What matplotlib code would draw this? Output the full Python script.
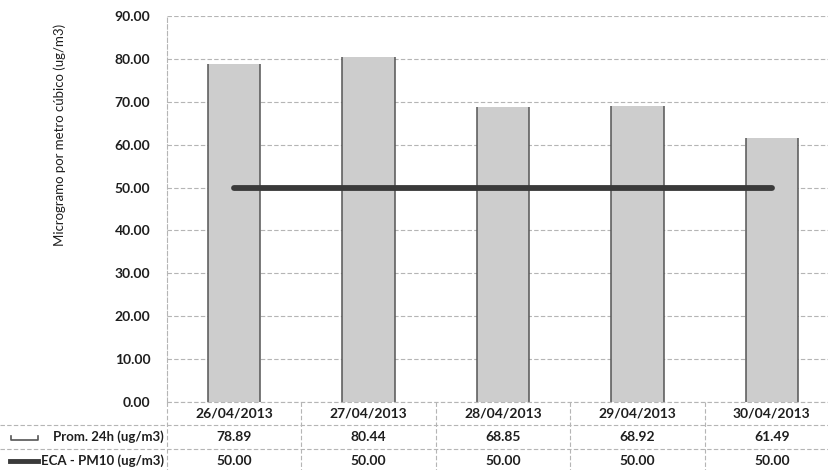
import matplotlib
matplotlib.use("Agg")
import matplotlib.pyplot as plt
from matplotlib.lines import Line2D
import numpy as np

# Data
fechas = ["26/04/2013", "27/04/2013", "28/04/2013", "29/04/2013", "30/04/2013"]
prom_24h = [78.89, 80.44, 68.85, 68.92, 61.49]
eca_pm10 = [50.00, 50.00, 50.00, 50.00, 50.00]
serie_prom = "Prom. 24h (ug/m3)"
serie_eca = "ECA - PM10 (ug/m3)"
y_label = "Microgramo por metro cúbico (ug/m3)"
y_ticks = [0, 10, 20, 30, 40, 50, 60, 70, 80, 90]

plt.rcParams["font.family"] = ["Lato", "DejaVu Sans"]
plt.rcParams["hatch.color"] = "#e6e6e6"
plt.rcParams["hatch.linewidth"] = 0.5

W, H = 829, 470
fig = plt.figure(figsize=(W / 100, H / 100), dpi=100)

# Plot area in pixels (extends slightly past the right edge)
left_px, top_px, bottom_px, right_px = 167, 16, 402, 839
ax = fig.add_axes([left_px / W, 1 - bottom_px / H,
                   (right_px - left_px) / W, (bottom_px - top_px) / H])

x = np.arange(len(fechas))
bar_w = 0.39
ax.bar(x, prom_24h, width=bar_w, color="#cdcdcd", edgecolor="none",
       hatch="......", zorder=2)
# darker side edges of the columns
ax.vlines(np.concatenate([x - bar_w / 2, x + bar_w / 2]), 0,
          prom_24h + prom_24h, color="#555555", linewidth=1.1, zorder=2.5)
ax.plot(x, eca_pm10, color="#3a3a3a", linewidth=4.2,
        solid_capstyle="round", zorder=3)

ax.set_xlim(-0.5, len(fechas) - 0.5)
ax.set_ylim(0, 90)
ax.set_yticks(y_ticks)
ax.set_yticklabels([f"{v:.2f}" for v in y_ticks])
ax.tick_params(axis="y", length=0, pad=12, labelsize=10, labelcolor="#1e1e1e")
ax.set_xticks([])
for lbl in ax.get_yticklabels():
    lbl.set_fontweight("bold")

ax.grid(axis="y", color="#b5b5b5", linestyle=(0, (4, 2)), linewidth=0.8, zorder=0)
for side in ["right", "bottom", "top"]:
    ax.spines[side].set_visible(False)
ax.spines["left"].set_color("#b5b5b5")
ax.spines["left"].set_linestyle((0, (4, 2)))
ax.spines["left"].set_linewidth(0.8)

fig.text(60 / W, 1 - 135 / H, y_label, rotation=90, ha="center", va="center",
         fontsize=9.5, color="#1e1e1e")

# Data table below the plot
def fy(py):
    return 1 - py / H

def fx(px):
    return px / W

grid_kw = dict(color="#b5b5b5", linewidth=0.8, linestyle=(0, (4, 2)))
cat_w = (right_px - left_px) / len(fechas)
col_edges = [left_px + i * cat_w for i in range(len(fechas))]
for cx in col_edges:
    fig.add_artist(Line2D([fx(cx), fx(cx)], [fy(402), fy(470)], **grid_kw))
fig.add_artist(Line2D([fx(left_px), 1], [fy(402), fy(402)], **grid_kw))
for ry in [425, 449]:
    fig.add_artist(Line2D([0, 1], [fy(ry), fy(ry)], **grid_kw))

row_y = [414, 437, 461]
txt_kw = dict(ha="center", va="center", fontsize=10, color="#1e1e1e",
              fontweight="bold")
for i, d in enumerate(fechas):
    cx = left_px + (i + 0.5) * cat_w
    fig.text(fx(cx), fy(row_y[0]), d, **txt_kw)
    fig.text(fx(cx), fy(row_y[1]), f"{prom_24h[i]:.2f}", **txt_kw)
    fig.text(fx(cx), fy(row_y[2]), f"{eca_pm10[i]:.2f}", **txt_kw)

lab_kw = dict(ha="right", va="center", fontsize=9.5, color="#1e1e1e",
              fontweight="bold")
fig.text(fx(164), fy(row_y[1]), serie_prom, **lab_kw)
fig.text(fx(164), fy(row_y[2]), serie_eca, **lab_kw)

# Legend keys in the table
fig.add_artist(Line2D([fx(11), fx(11), fx(38), fx(38)],
                      [fy(436), fy(440), fy(440), fy(436)],
                      color="#555555", linewidth=1.2))
fig.add_artist(Line2D([fx(10), fx(38)], [fy(461), fy(461)],
                      color="#3a3a3a", linewidth=3.5))

fig.savefig("out.png", dpi=100)
